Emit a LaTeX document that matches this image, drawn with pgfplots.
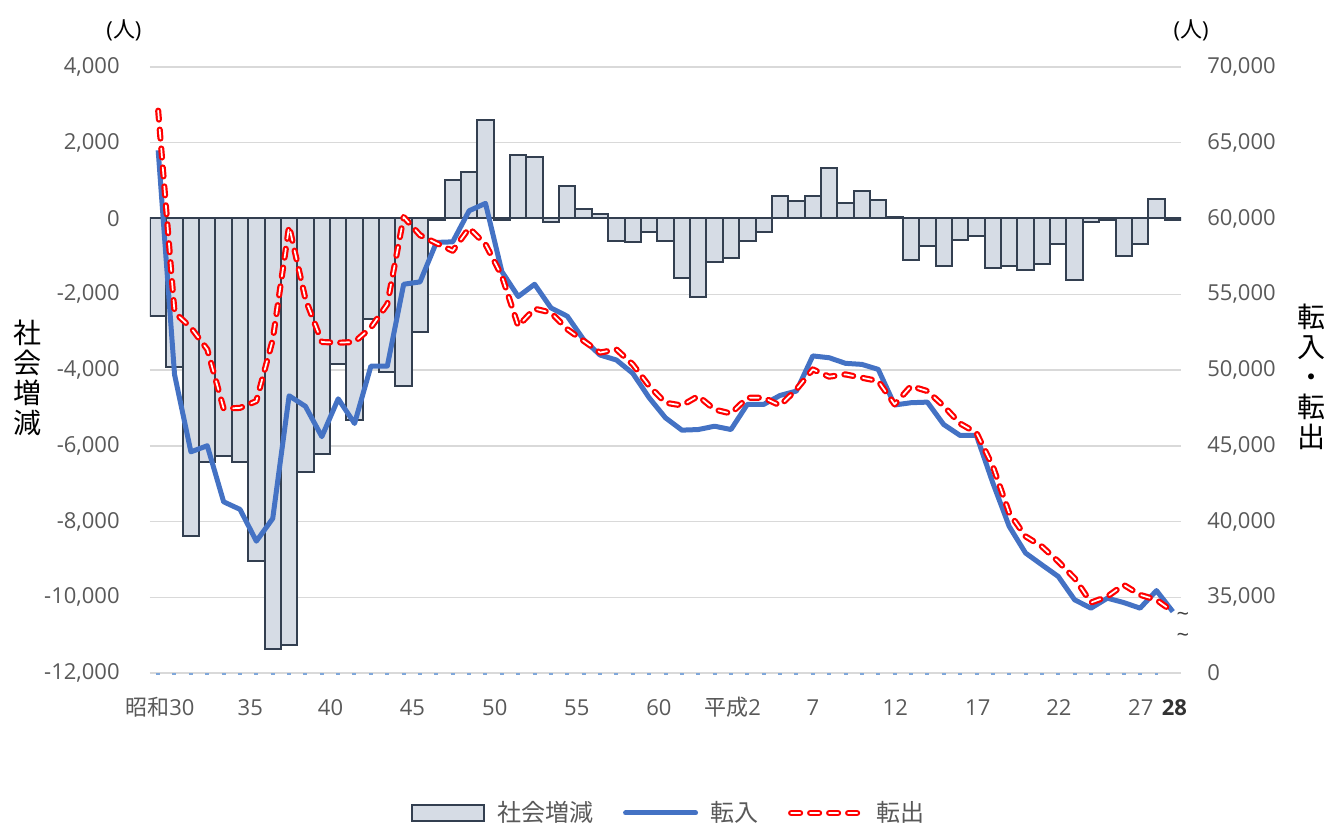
\documentclass[border=0pt]{standalone}
\usepackage{pgfplots}
\pgfplotsset{compat=1.18}
\usepackage{pgfplotstable}
\usepackage{fontspec}
\setmainfont{Open Sans}
\newfontfamily\jp{Noto Sans CJK JP}
\definecolor{barfill}{HTML}{D6DCE5}
\definecolor{baredge}{HTML}{333F50}
\definecolor{blueline}{HTML}{4472C4}
\definecolor{gridgray}{HTML}{D9D9D9}
\definecolor{tickgray}{HTML}{595959}
\definecolor{redline}{HTML}{FF0000}
\definecolor{dotblue}{HTML}{7FA7DA}

\pgfplotstableread{
idx soc tin tout
0 -2570 64500 67120
1 -3930 49700 53800
2 -8390 44600 52800
3 -6430 45000 51360
4 -6270 41300 47450
5 -6430 40800 47500
6 -9030 38700 47950
7 -11370 40200 52000
8 -11250 48300 59500
9 -6700 47600 54670
10 -6230 45600 51850
11 -3830 48100 51800
12 -5330 46470 51850
13 -2660 50260 52800
14 -4040 50260 54340
15 -4430 55660 60100
16 -3000 55815 58900
17 -50 58420 58370
18 1020 58460 57870
19 1220 60510 59370
20 2590 61000 58300
21 -30 56500 56210
22 1680 54850 52900
23 1630 55660 54050
24 -105 54100 53790
25 850 53550 52690
26 263 52000 51920
27 114 50990 51150
28 -588 50660 51360
29 -614 49780 50370
30 -351 48170 48940
31 -588 46840 47840
32 -1579 46030 47660
33 -2061 46070 48280
34 -1158 46290 47390
35 -1052 46070 47130
36 -588 47730 48170
37 -368 47730 48170
38 588 48320 47660
39 465 48610 48720
40 588 50930 50040
41 1324 50810 49560
42 403 50440 49710
43 737 50370 49490
44 482 50040 49270
45 40 47690 47730
46 -1105 47840 48940
47 -737 47880 48610
48 -1263 46400 47620
49 -579 45680 46470
50 -474 45680 45850
51 -1316 42550 43650
52 -1263 39680 40560
53 -1368 37920 39020
54 -1210 37140 38350
55 -684 36370 37360
56 -1631 34830 36250
57 -105 34280 34650
58 -30 34940 35050
59 -1000 34650 35820
60 -684 34280 35160
61 509 35440 34830
62 -30 34050 34050
}\datatable

\begin{document}
\begin{tikzpicture}
\path[use as bounding box] (-75pt,-76pt) rectangle (588.5pt,336.5pt);
\begin{axis}[
  at={(0pt,0pt)}, anchor=south west,
  scale only axis, width=515.5pt, height=303pt,
  xmin=-0.5, xmax=62.5, ymin=-12000, ymax=4000,
  scaled y ticks=false, scaled x ticks=false,
  ybar, bar width=1, bar shift=0pt,
  axis line style={draw=none}, major tick length=0pt,
  ytick={-12000,-10000,...,4000},
  yticklabels={{-12,000},{-10,000},{-8,000},{-6,000},{-4,000},{-2,000},0,{2,000},{4,000}},
  xtick={0.11,5.63,10.53,15.53,20.57,25.58,30.6,35.11,40.0,45.04,50.08,55.04,60.04,62.1},
  xticklabels={{{\jp 昭和}30},35,40,45,50,55,60,{{\jp 平成}2},7,12,17,22,27,{\textcolor{black!80}{\textbf{28}}}},
  ymajorgrids, grid style={draw=gridgray, line width=0.75pt},
  tick label style={font=\fontsize{11pt}{13pt}\selectfont, text=tickgray},
  yticklabel style={anchor=east, inner sep=0pt, xshift=-15pt},
  xticklabel style={anchor=center, inner sep=0pt, yshift=-17.5pt, text height=8pt, text depth=1pt},
]
\addplot[fill=barfill, draw=baredge, line width=1pt] table[x=idx, y=soc] {\datatable};
\end{axis}
\begin{axis}[
  at={(0pt,0pt)}, anchor=south west,
  scale only axis, width=515.5pt, height=303pt,
  xmin=-0.5, xmax=62.5, ymin=30000, ymax=70000,
  scaled y ticks=false,
  axis x line=none, axis y line*=right,
  axis line style={draw=none}, major tick length=0pt,
  ytick={30000,35000,...,70000},
  yticklabels={0,{35,000},{40,000},{45,000},{50,000},{55,000},{60,000},{65,000},{70,000}},
  tick label style={font=\fontsize{11pt}{13pt}\selectfont, text=tickgray},
  yticklabel style={anchor=west, inner sep=0pt, xshift=13pt},
  clip=false,
  legend style={at={(0.504,-0.231)}, anchor=center, draw=none, fill=none, legend columns=-1,
    font=\jp\fontsize{12pt}{13pt}\selectfont, text=tickgray,
    /tikz/every odd column/.append style={column sep=4pt},
    /tikz/every even column/.append style={column sep=13pt}},
  legend image code/.code={\draw[#1, line cap=round] (0pt,0pt) -- (35pt,0pt);},
]
\addlegendimage{legend image code/.code={\draw[fill=barfill, draw=baredge, line width=1pt] (0pt,-4pt) rectangle (36pt,4pt);}}
\addlegendentry{社会増減}
\addplot[blueline, line width=2.5pt, line join=round] table[x=idx,y=tin]{\datatable};
\addlegendentry{転入}
\addplot[redline, line width=1.1pt, double=white, double distance=0.85pt, dash pattern=on 4.5pt off 5pt, line cap=round, line join=round] table[x=idx,y=tout]{\datatable};
\addlegendentry{転出}
\addplot[dotblue, line width=1pt, dash pattern=on 2pt off 6.185pt, forget plot] coordinates {(-0.13,29950) (61.1,29950)};
\end{axis}
\node[font=\fontsize{11pt}{12pt}\selectfont] at (-13pt,321.5pt) {({\jp 人})};
\node[font=\fontsize{11pt}{12pt}\selectfont] at (520.5pt,321.5pt) {({\jp 人})};
\node[font=\jp\fontsize{14pt}{15pt}\selectfont, align=center] at (-61pt,147.75pt) {社\\会\\増\\減};
\node[font=\jp\fontsize{14pt}{15pt}\selectfont, align=center] at (580.5pt,148pt) {転\\入\\・\\転\\出};
\node[font=\fontsize{11pt}{12pt}\selectfont, text=black!75] at (516.5pt,28pt) {\textasciitilde};
\node[font=\fontsize{11pt}{12pt}\selectfont, text=black!75] at (516.5pt,17.5pt) {\textasciitilde};
\end{tikzpicture}
\end{document}
